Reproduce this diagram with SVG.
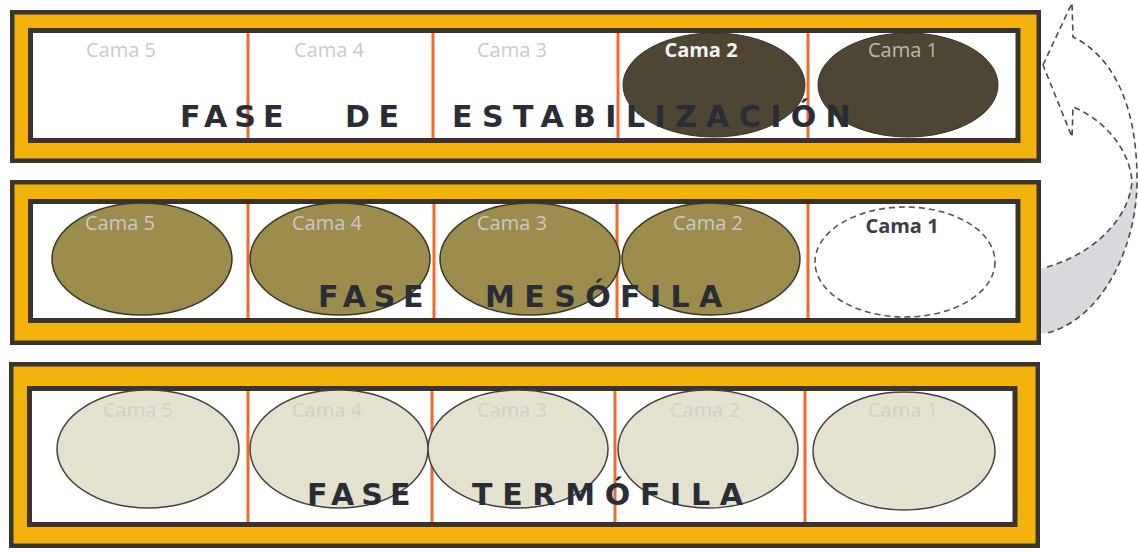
<svg xmlns="http://www.w3.org/2000/svg" width="1138" height="552" viewBox="0 0 1138 552">
<style>
.outer{fill:#f4b30c;stroke:#3a342e;stroke-width:4.5}
.inner{fill:#ffffff;stroke:#3a342e;stroke-width:5}
.div{stroke:#ef6a2c;stroke-width:3}
.lbl{font-family:"Open Sans","Liberation Sans",sans-serif;font-size:20px;fill:#c9c9cc;text-anchor:middle}
.title{font-family:"DejaVu Sans","Liberation Sans",sans-serif;font-size:30px;font-weight:bold;fill:#2a2c36;letter-spacing:9.4px}
.short{letter-spacing:7px}
.e1{fill:#4e4632;stroke:#38322a;stroke-width:1}
.e2{fill:#9c8d4d;stroke:#3a3528;stroke-width:1.5}
.e3{fill:#e5e1cf;stroke:#45423c;stroke-width:1.5}
.dash{fill:none;stroke:#4a4a4a;stroke-width:1.6;stroke-dasharray:6 4}
</style>

<g id="connectors">
<path d="M1038,269 L1047,267 C1090,255 1128,222 1132,182 L1137,180 C1137,250 1100,320 1047,333 L1038,334 Z" fill="#d9d9de"/>
<path class="dash" d="M1043,65 L1072,3 L1073,37 C1110,55 1137,100 1137,180 C1137,250 1100,320 1047,333 M1047,267 C1090,255 1128,222 1132,182 C1130,150 1105,120 1073,107 L1072,137 L1043,65"/>
</g>

<g id="fase-estabilizacion">
<rect class="outer" x="12.25" y="12.25" width="1026.5" height="148.5"/>
<rect class="inner" x="30.5" y="30.5" width="987.5" height="110"/>
<line class="div" x1="248" y1="33" x2="248" y2="138"/>
<line class="div" x1="433" y1="33" x2="433" y2="138"/>
<line class="div" x1="618" y1="33" x2="618" y2="138"/>
<line class="div" x1="808" y1="33" x2="808" y2="138"/>
<g id="p1-cama5"><text class="lbl" x="121" y="57">Cama 5</text></g>
<g id="p1-cama4"><text class="lbl" x="329" y="57">Cama 4</text></g>
<g id="p1-cama3"><text class="lbl" x="512" y="57">Cama 3</text></g>
<g id="p1-cama2"><ellipse class="e1" cx="714" cy="85" rx="91" ry="52"/><text class="lbl" x="701" y="57" style="fill:#f2f2ee;font-weight:bold">Cama 2</text></g>
<g id="p1-cama1"><ellipse class="e1" cx="908" cy="85" rx="90" ry="52"/><text class="lbl" x="903" y="57" style="fill:#b9b8b2">Cama 1</text></g>
<text class="title short" x="180" y="127">FASE</text>
<text class="title" x="345" y="127" style="letter-spacing:8.6px">DE</text>
<text class="title" x="452" y="127">ESTABILIZACIÓN</text>
</g>

<g id="fase-mesofila">
<rect class="outer" x="12.25" y="182.25" width="1026.5" height="160.5"/>
<rect class="inner" x="30.5" y="201.5" width="987.5" height="119"/>
<line class="div" x1="248" y1="204" x2="248" y2="318"/>
<line class="div" x1="434" y1="204" x2="434" y2="318"/>
<line class="div" x1="617" y1="204" x2="617" y2="318"/>
<line class="div" x1="808" y1="204" x2="808" y2="318"/>
<g id="p2-cama5"><ellipse class="e2" cx="142" cy="259" rx="90" ry="56"/><text class="lbl" x="120" y="230">Cama 5</text></g>
<g id="p2-cama4"><ellipse class="e2" cx="340" cy="259" rx="90" ry="56"/><text class="lbl" x="327" y="230">Cama 4</text></g>
<g id="p2-cama3"><ellipse class="e2" cx="530" cy="259" rx="90" ry="56"/><text class="lbl" x="512" y="230">Cama 3</text></g>
<g id="p2-cama2"><ellipse class="e2" cx="711" cy="259" rx="89" ry="56"/><text class="lbl" x="708" y="230">Cama 2</text></g>
<g id="p2-cama1"><ellipse cx="905" cy="262" rx="90" ry="55" fill="#ffffff" stroke="#555" stroke-width="1.6" stroke-dasharray="6 4"/><text class="lbl" x="902" y="233" style="fill:#3c3d48;font-weight:bold">Cama 1</text></g>
<text class="title" x="318" y="307" style="letter-spacing:7.7px">FASE</text>
<text class="title" x="485" y="307">MESÓFILA</text>
</g>

<g id="fase-termofila">
<rect class="outer" x="11.25" y="364.25" width="1026.5" height="181.5"/>
<rect class="inner" x="29.5" y="388.5" width="985.5" height="136"/>
<line class="div" x1="248" y1="391" x2="248" y2="522"/>
<line class="div" x1="432" y1="391" x2="432" y2="522"/>
<line class="div" x1="615" y1="391" x2="615" y2="522"/>
<line class="div" x1="805" y1="391" x2="805" y2="522"/>
<g id="p3-cama5"><ellipse class="e3" cx="148" cy="449" rx="91" ry="59"/><text class="lbl" x="138" y="417" style="fill:#d2d0c6">Cama 5</text></g>
<g id="p3-cama4"><ellipse class="e3" cx="339" cy="449" rx="89" ry="59"/><text class="lbl" x="327" y="417" style="fill:#d2d0c6">Cama 4</text></g>
<g id="p3-cama3"><ellipse class="e3" cx="518" cy="449" rx="90" ry="59"/><text class="lbl" x="512" y="417" style="fill:#d2d0c6">Cama 3</text></g>
<g id="p3-cama2"><ellipse class="e3" cx="708" cy="449" rx="90" ry="59"/><text class="lbl" x="705" y="417" style="fill:#d2d0c6">Cama 2</text></g>
<g id="p3-cama1"><ellipse class="e3" cx="904" cy="451" rx="91" ry="59"/><text class="lbl" x="903" y="417" style="fill:#d2d0c6">Cama 1</text></g>
<text class="title short" x="307" y="505">FASE</text>
<text class="title" x="472" y="505" style="letter-spacing:9.7px">TERMÓFILA</text>
</g>
</svg>
